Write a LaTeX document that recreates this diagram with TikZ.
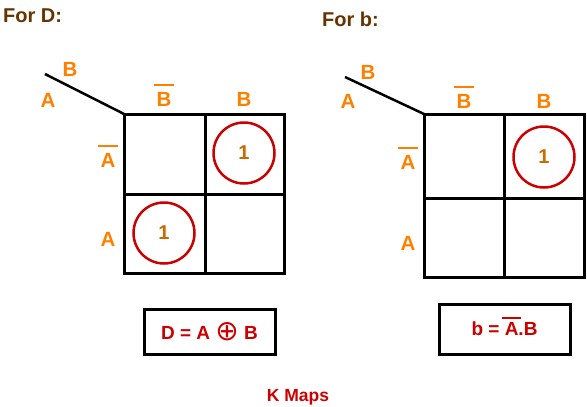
\documentclass[tikz,border=0pt]{standalone}
\usepackage{fontspec}
\setmainfont{Liberation Sans}
\newfontfamily\symfont{DejaVu Sans}
\definecolor{lbl}{HTML}{FF8000}
\definecolor{one}{HTML}{CC6A00}
\definecolor{red}{HTML}{CC0000}
\definecolor{ttl}{HTML}{663300}
\newcommand{\ob}[2][6pt]{{\setbox0\hbox{#2}\vbox{\offinterlineskip\hbox to\wd0{\hss\vrule height1.8pt depth0pt width 1.35\wd0\hss}\kern#1\box0}}}
\begin{document}
\begin{tikzpicture}[x=1pt,y=-1pt,
  lab/.style={text=lbl,font=\fontsize{20.5}{20.5}\selectfont\bfseries,inner sep=0pt},
  ttlstyle/.style={text=ttl,font=\fontsize{20}{20}\selectfont\bfseries,inner sep=0pt},
  onec/.style={circle,draw=red,line width=2.5pt,minimum size=61pt,inner sep=0pt,text=one,font=\fontsize{20}{20}\selectfont\bfseries},
  grid/.style={line width=3pt,line cap=rect},
  diag/.style={line width=2.5pt},
  fbox/.style={draw=black,line width=3pt,text=red,font=\fontsize{19}{19}\selectfont\bfseries,inner sep=0pt},
]
\useasboundingbox (0,0) rectangle (587,407);
% titles
\node[ttlstyle,anchor=west] (t1) at (3,16) {For D:};
\node[ttlstyle,anchor=west] (t2) at (322,19) {For b:};
% left K map
\draw[grid] (124,114) rectangle (284,273);
\draw[grid] (205,114) -- (205,273);
\draw[grid] (124,194) -- (284,194);
\coordinate (d1s) at (45,74);
\coordinate (d1e) at (124,114);
\draw[diag] (d1s) -- (d1e);
\node[lab] (lB1) at (70,69) {B};
\node[lab] (lA1) at (48,100) {A};
\node[lab,anchor=base] (cB1n) at (164,106) {\ob{B}};
\node[lab,anchor=base] (cB1) at (244,106) {B};
\node[lab,anchor=base] (rA1n) at (108,167) {\ob{A}};
\node[lab] (rA1) at (108,239) {A};
\node[onec] (c11) at (244,153) {1};
\node[onec] (c12) at (164,233) {1};
% right K map
\draw[grid] (424,114) rectangle (584,277);
\draw[grid] (504,114) -- (504,277);
\draw[grid] (424,198) -- (584,198);
\coordinate (d2s) at (345,77);
\coordinate (d2e) at (424,114);
\draw[diag] (d2s) -- (d2e);
\node[lab] (lB2) at (368,72) {B};
\node[lab] (lA2) at (348,101) {A};
\node[lab,anchor=base] (cB2n) at (464,108) {\ob{B}};
\node[lab,anchor=base] (cB2) at (544,108) {B};
\node[lab,anchor=base] (rA2n) at (408,169) {\ob{A}};
\node[lab] (rA2) at (408,243) {A};
\node[onec] (c21) at (544,157) {1};
% formula boxes
\node[fbox,minimum width=131pt,minimum height=45pt] (f1) at (209.5,331.5) {D = A {\symfont\fontsize{28}{28}\selectfont\mdseries\raisebox{-1pt}{⊕}} B};
\node[fbox,minimum width=131pt,minimum height=50pt] (f2) at (504.5,329) {b = \smash{\ob[4pt]{A}}.B};
% caption
\node[text=red,font=\fontsize{17.5}{17.5}\selectfont\bfseries,inner sep=0pt] (cap) at (298,397) {K Maps};
\end{tikzpicture}
\end{document}
